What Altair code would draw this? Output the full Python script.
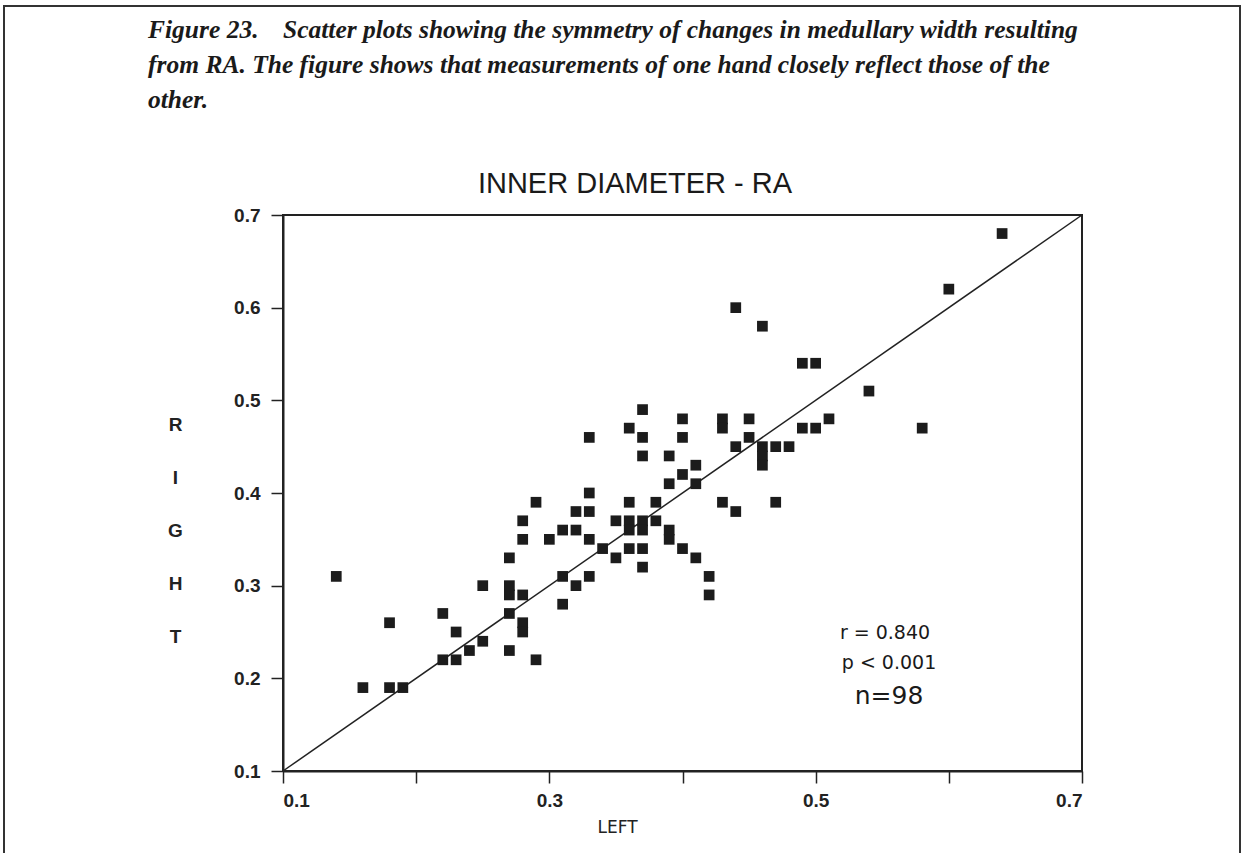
import altair as alt
import pandas as pd

left = [0.14,
        0.16, 0.18, 0.19, 0.18, 0.22, 0.22, 0.23, 0.23, 0.24, 0.25, 0.25, 0.27, 0.27, 0.27,
        0.28, 0.27, 0.28, 0.28, 0.27, 0.29, 0.31, 0.31, 0.32,
        0.37, 0.40, 0.43, 0.43, 0.45, 0.45, 0.44, 0.36, 0.37, 0.40, 0.33, 0.37, 0.39, 0.41,
        0.40, 0.39, 0.41, 0.29, 0.33, 0.32, 0.33, 0.36, 0.38, 0.43, 0.44, 0.28, 0.28, 0.30,
        0.31, 0.32, 0.33, 0.35, 0.36, 0.36, 0.37, 0.37, 0.38, 0.39, 0.39, 0.34, 0.35, 0.36,
        0.37, 0.37, 0.40, 0.41, 0.42, 0.42, 0.33,
        0.49, 0.50, 0.54, 0.58, 0.51, 0.49, 0.50, 0.46, 0.46, 0.46, 0.47, 0.48, 0.47,
        0.64, 0.60, 0.44, 0.46]
right = [0.31,
         0.19, 0.19, 0.19, 0.26, 0.27, 0.22, 0.22, 0.25, 0.23, 0.24, 0.30, 0.33, 0.30, 0.29,
         0.29, 0.27, 0.26, 0.25, 0.23, 0.22, 0.31, 0.28, 0.30,
         0.49, 0.48, 0.48, 0.47, 0.48, 0.46, 0.45, 0.47, 0.46, 0.46, 0.46, 0.44, 0.44, 0.43,
         0.42, 0.41, 0.41, 0.39, 0.40, 0.38, 0.38, 0.39, 0.39, 0.39, 0.38, 0.37, 0.35, 0.35,
         0.36, 0.36, 0.35, 0.37, 0.37, 0.36, 0.37, 0.36, 0.37, 0.36, 0.35, 0.34, 0.33, 0.34,
         0.34, 0.32, 0.34, 0.33, 0.31, 0.29, 0.31,
         0.54, 0.54, 0.51, 0.47, 0.48, 0.47, 0.47, 0.45, 0.44, 0.43, 0.45, 0.45, 0.39,
         0.68, 0.62, 0.60, 0.58]

axis_ticks = [0.1, 0.2, 0.3, 0.4, 0.5, 0.6, 0.7]
identity = [0.1, 0.7]

caption_head = "Figure 23."
caption_lines = [
    "Scatter plots showing the symmetry of changes in medullary width resulting",
    "from RA. The figure shows that measurements of one hand closely reflect those of the",
    "other.",
]
plot_title = "INNER DIAMETER - RA"
stats = ["r = 0.840", "p < 0.001", "n=98"]

df = pd.DataFrame({"left": left, "right": right})
line_df = pd.DataFrame({"a": identity, "b": identity})

W, H = 799, 556
PL, PT = 283, 215

xs = alt.Scale(domain=[0.1, 0.7], nice=False, zero=False)
ys = alt.Scale(domain=[0.1, 0.7], nice=False, zero=False)

SANS = "Liberation Sans"
WIDE = "DejaVu Sans"

x_axis = alt.Axis(
    values=axis_ticks, grid=False, format=".1f",
    labelExpr="(round(datum.value*10) % 2 == 1) ? format(datum.value, '.1f') : ''",
    labelFont=SANS, labelFontWeight="bold", labelFontSize=19,
    labelColor="#222", labelPadding=8, tickSize=12, tickWidth=1.5, tickColor="#222",
    domainColor="#222", domainWidth=2,
    title="LEFT", titleFont=WIDE, titleFontWeight="normal", titleFontSize=17,
    titleColor="#222", titleX=334, titleY=56, titleAnchor="middle", titleBaseline="middle",
)
y_axis = alt.Axis(
    values=axis_ticks, grid=False, format=".1f",
    labelFont=SANS, labelFontWeight="bold", labelFontSize=19,
    labelColor="#222", labelPadding=11, tickSize=12, tickWidth=1.5, tickColor="#222",
    domainColor="#222", domainWidth=2,
    title=["R", "I", "G", "H", "T"], titleAngle=0, titleFont=SANS,
    titleFontWeight="bold", titleFontSize=19, titleColor="#222", titleLineHeight=53,
    titleX=-108, titleY=200, titleAlign="center", titleBaseline="top",
)

points = alt.Chart(df).mark_square(size=115, color="#1c1c1c", opacity=1).encode(
    x=alt.X("left:Q", scale=xs, axis=x_axis),
    y=alt.Y("right:Q", scale=ys, axis=y_axis),
)

diag = alt.Chart(line_df).mark_line(color="#222", strokeWidth=1.5).encode(
    x=alt.X("a:Q", scale=xs), y=alt.Y("b:Q", scale=ys)
)

def txt(s, x, y, size, font=WIDE, weight="normal", style="normal", align="center"):
    return alt.Chart(pd.DataFrame({"t": [s]})).mark_text(
        font=font, fontSize=size, fontWeight=weight, fontStyle=style, align=align,
        baseline="middle", color="#1a1a1a",
    ).encode(x=alt.value(x), y=alt.value(y), text="t:N")

serif = "Liberation Serif"
CS = 25.5
cap = [
    txt(caption_head, 148 - PL, 30 - PT, CS, serif, "bold", "italic", "left"),
    txt(caption_lines[0], 283 - PL, 30 - PT, CS, serif, "bold", "italic", "left"),
    txt(caption_lines[1], 148 - PL, 65 - PT, CS, serif, "bold", "italic", "left"),
    txt(caption_lines[2], 148 - PL, 100 - PT, CS, serif, "bold", "italic", "left"),
]
title = txt(plot_title, 635 - PL, 184 - PT, 29, SANS)
st = [
    txt(stats[0], 885 - PL, 633 - PT, 19),
    txt(stats[1], 889 - PL, 663 - PT, 19),
    txt(stats[2], 889 - PL, 696 - PT, 25),
]

frame = alt.Chart(pd.DataFrame({"k": [0]})).mark_rect(
    filled=False, stroke="#333", strokeWidth=2
).encode(
    x=alt.value(4 - PL), x2=alt.value(1240 - PL), y=alt.value(6 - PT), y2=alt.value(900 - PT)
)

chart = alt.layer(frame, diag, points, title, *cap, *st).properties(
    width=W, height=H,
    autosize=alt.AutoSizeParams(type="none"),
    padding={"left": PL, "top": PT, "right": 1246 - PL - W, "bottom": 853 - PT - H},
    background="white",
).configure_view(stroke="#222", strokeWidth=2)

chart.save("out.html", embed_options={"renderer": "svg", "actions": False})
